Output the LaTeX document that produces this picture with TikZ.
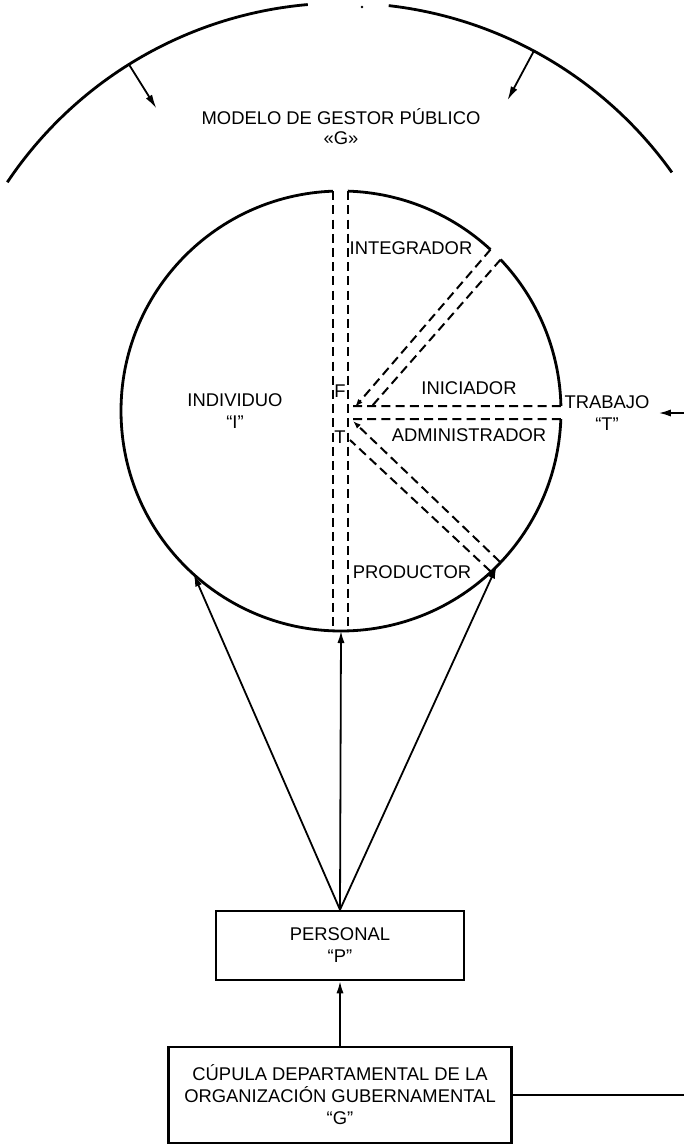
\documentclass[tikz,border=0pt]{standalone}
\usepackage{fontspec}
\setmainfont{Liberation Sans}
\usetikzlibrary{arrows.meta,calc}

\begin{document}
\begin{tikzpicture}[x=0.5pt,y=-0.5pt,>={Latex[length=6pt,width=3.6pt]},
  txt/.style={font=\fontsize{9.2}{11}\selectfont,align=center,inner sep=0pt},
  caja/.style={draw,line width=1.3pt,font=\fontsize{9.2}{11}\selectfont,align=center,inner sep=0pt},
  rim/.style={line width=1.4pt},
  guide/.style={line width=1pt,dash pattern=on 4.5pt off 2.6pt},
  flow/.style={line width=0.9pt}]
\useasboundingbox (0,0) rectangle (684,1146);
% centres of the two circles
\coordinate (og) at (343,407);
\coordinate (o) at (341,411);
% modelo de gestor publico: outer arc
\draw[rim] (og) ++(-146.2:404) arc[start angle=-146.2,end angle=-95,radius=404];
\draw[rim] (og) ++(-83.5:404) arc[start angle=-83.5,end angle=-35.5,radius=404];
\fill (362,7) circle[radius=1.3];
\coordinate (gl) at ($(og)+(-122:404)$);
\coordinate (gli) at ($(og)+(-122:352)$);
\coordinate (gr) at ($(og)+(-61.8:404)$);
\coordinate (gri) at ($(og)+(-61.8:348)$);
\draw[flow,->,>={Latex[length=7pt,width=3.6pt]}] (gl) -- (gli);
\draw[flow,->,>={Latex[length=7pt,width=3.6pt]}] (gr) -- (gri);
\node[txt,font=\fontsize{9.2}{10}\selectfont] (modelo) at (341,127) {MODELO DE GESTOR PÚBLICO\\«G»};
% individuo: inner circle, cut where the guides leave it
\draw[rim] (o) ++(-92.1:220) arc[start angle=-92.1,end angle=-357.9,radius=220];
\draw[rim] (o) ++(-1.3:220) arc[start angle=-1.3,end angle=-43.5,radius=220];
\draw[rim] (o) ++(-47.2:220) arc[start angle=-47.2,end angle=-88.2,radius=220];
\coordinate (tl) at ($(o)+(-92.1:220)$);
\coordinate (tr) at ($(o)+(-88.2:220)$);
\coordinate (bl) at ($(o)+(92.1:220)$);
\coordinate (br) at ($(o)+(88.2:220)$);
\coordinate (ia) at ($(o)+(-47.2:220)$);
\coordinate (ib) at ($(o)+(-43.5:220)$);
\coordinate (ra) at ($(o)+(-1.3:220)$);
\coordinate (rb) at ($(o)+(2.1:220)$);
\coordinate (pa) at ($(o)+(43.5:219)$);
\coordinate (pb) at ($(o)+(47:219)$);
\coordinate (fa) at (355,407);
\coordinate (fb) at (372,406);
\coordinate (ha) at (353,406);
\coordinate (hb) at (353,419);
\coordinate (ta) at (353,421);
\coordinate (tb) at (350,440);
% dashed guides of the roles
\draw[guide] (tl) -- (bl);
\draw[guide] (tr) -- (br);
\draw[guide,->,>={Latex[length=4pt,width=2.8pt]}] (ia) -- (fa);
\draw[guide] (ib) -- (fb);
\draw[guide] (ha) -- (ra);
\draw[guide] (hb) -- (rb);
\draw[guide,->,>={Latex[length=4pt,width=2.8pt]}] (pa) -- (ta);
\draw[guide] (pb) -- (tb);
\node[txt] (f) at (340,391) {F};
\node[txt] (t) at (340,437) {T};
\node[txt] (indiv) at (235,411) {INDIVIDUO\\“I”};
\node[txt] (integ) at (411,248) {INTEGRADOR};
\node[txt] (inic) at (469,388) {INICIADOR};
\node[txt] (admin) at (469,435) {ADMINISTRADOR};
\node[txt] (prod) at (412,572) {PRODUCTOR};
\node[txt] (trab) at (607,413) {TRABAJO\\“T”};
\coordinate (tin) at (684,413);
\draw[flow,->] (tin) -- ([xshift=4.5pt]trab.east);
% personal and cupula
\node[caja,minimum width=124pt,minimum height=34.5pt] (pers) at (340,945.5) {PERSONAL\\“P”};
\node[caja,minimum width=171.5pt,minimum height=48pt] (cup) at (340,1095) {CÚPULA DEPARTAMENTAL DE LA\\ORGANIZACIÓN GUBERNAMENTAL\\“G”};
\coordinate (al) at ($(o)+(132:220)$);
\coordinate (ab) at ($(o)+(90:220)$);
\coordinate (ar) at ($(o)+(45:220)$);
\draw[flow,->] (pers.north) -- (al);
\draw[flow,->] (pers.north) -- (ab);
\draw[flow,->] (pers.north) -- (ar);
\draw[flow,->] (cup.north) -- (pers.south);
\coordinate (ce) at (684,1095);
\draw[flow] (cup.east) -- (ce);
\end{tikzpicture}
\end{document}
